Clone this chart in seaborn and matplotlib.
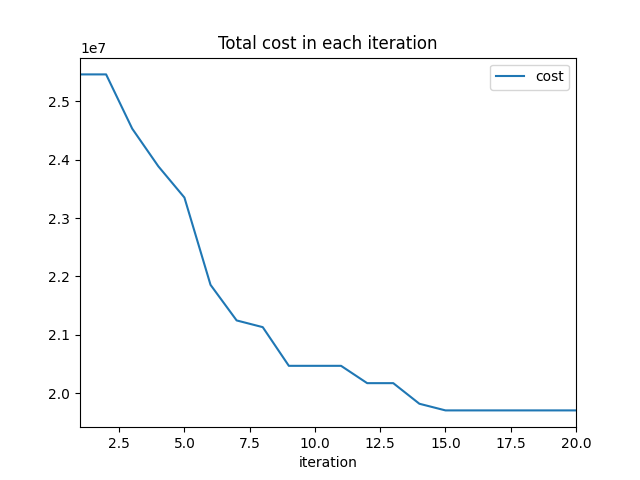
import matplotlib
matplotlib.use("Agg")
import matplotlib.pyplot as plt
import numpy as np
import pandas as pd
import seaborn as sns

iterations = list(range(1, 21))
cost = [2.5462e7, 2.5462e7, 2.4532e7, 2.3887e7, 2.3351e7, 2.1855e7, 2.1245e7,
        2.1130e7, 2.0467e7, 2.0467e7, 2.0467e7, 2.0170e7, 2.0170e7, 1.9817e7,
        1.9703e7, 1.9703e7, 1.9703e7, 1.9703e7, 1.9703e7, 1.9703e7]

df = pd.DataFrame({"iteration": iterations, "cost": cost})

fig, ax = plt.subplots(figsize=(6.4, 4.8), dpi=100)
sns.lineplot(data=df, x="iteration", y="cost", color="#1f77b4", label="cost", ax=ax)
ax.set_xlim(1, 20)
ax.set_title("Total cost in each iteration")
ax.set_xlabel("iteration")
ax.set_ylabel("")
ax.legend(loc="upper right")
fig.savefig("out.png")
